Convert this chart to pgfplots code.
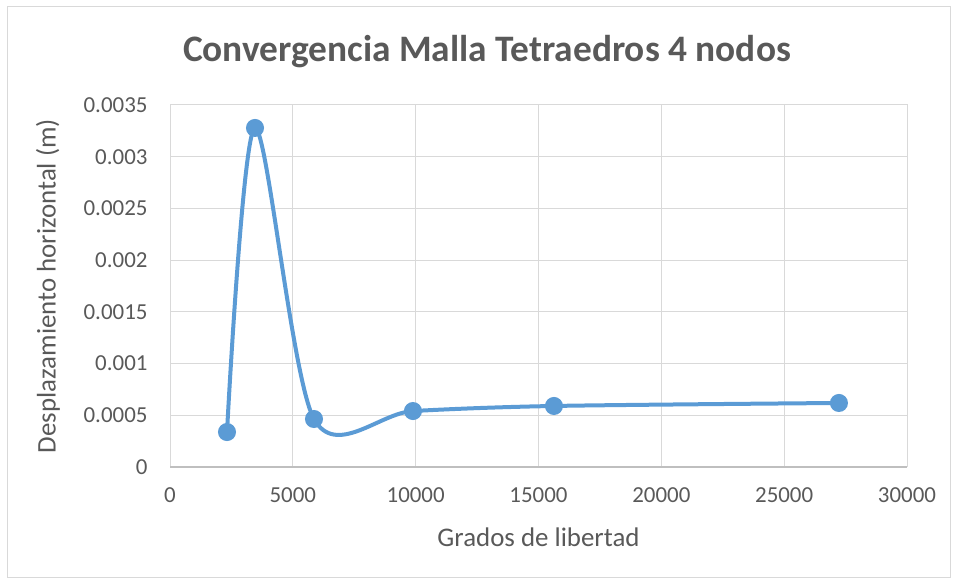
\documentclass[border=0pt]{standalone}
\usepackage{pgfplots}
\pgfplotsset{compat=1.18}
\usepackage{fontspec}
\setmainfont{Carlito}
\definecolor{txt}{HTML}{595959}
\definecolor{grd}{HTML}{D9D9D9}
\definecolor{axl}{HTML}{BFBFBF}
\definecolor{ser}{HTML}{5B9BD5}
\begin{document}
\begin{tikzpicture}[x=1bp,y=1bp]
\useasboundingbox (0,0) rectangle (954,580);
\draw[grd, line width=1bp] (7,2) rectangle (950,573);
\node[txt, font=\bfseries\fontsize{37.5}{44}\selectfont] at (487,528) {Convergencia Malla Tetraedros 4 nodos};
\begin{axis}[
  at={(170bp,113bp)}, anchor=south west,
  scale only axis, width=737bp, height=362bp,
  xmin=0, xmax=30000, ymin=0, ymax=0.0035,
  xtick={0,5000,10000,15000,20000,25000,30000},
  xticklabels={0,5000,10000,15000,20000,25000,30000},
  ytick={0,0.0005,0.001,0.0015,0.002,0.0025,0.003,0.0035},
  yticklabels={0,0.0005,0.001,0.0015,0.002,0.0025,0.003,0.0035},
  scaled ticks=false,
  tick style={draw=none},
  grid=major, major grid style={grd, line width=1bp},
  axis line style={grd, line width=1bp},
  ticklabel style={txt, font=\fontsize{23}{27}\selectfont},
  xticklabel style={yshift=-17bp},
  yticklabel style={xshift=-19bp},
  xlabel={Grados de libertad},
  ylabel={Desplazamiento horizontal (m)},
  label style={txt, font=\fontsize{27}{32}\selectfont},
  xlabel style={at={(axis description cs:0.5,0)}, anchor=center, yshift=-70bp},
  ylabel style={at={(axis description cs:0,0.5)}, anchor=center, xshift=0bp, yshift=122bp},
]
\addplot[ser, line width=4bp, smooth, mark=*, mark size=7bp, mark options={fill=ser, draw=none}]
coordinates {
(2320,0.000338)
(3460,0.003278)
(5861,0.000464)
(9890,0.000541)
(15629,0.000590)
(27229,0.000619)
};
\end{axis}
\draw[axl, line width=1.2bp] (170,113) -- (907,113);
\end{tikzpicture}
\end{document}
